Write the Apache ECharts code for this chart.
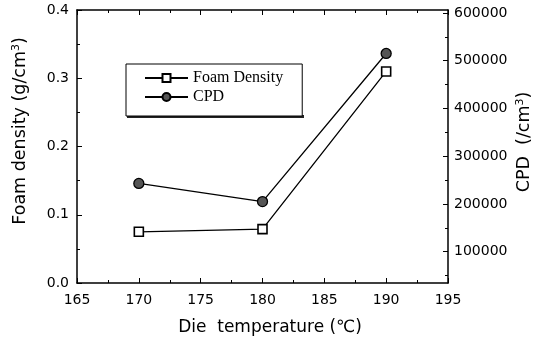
<!DOCTYPE html>
<html>
<head>
<meta charset="utf-8">
<script src="https://cdn.jsdelivr.net/npm/echarts@6/dist/echarts.min.js"></script>
<style>html,body{margin:0;padding:0;background:#fff}#c{width:540px;height:341px}</style>
</head>
<body>
<div id="c"></div>
<script>
const temperatures = [170, 180, 190];
const foamDensity = [0.075, 0.079, 0.310];
const cpd = [243000, 205000, 515000];
const xTicks = [165, 170, 175, 180, 185, 190, 195];
const leftTicks = [0.0, 0.1, 0.2, 0.3, 0.4];
const rightTickLabels = [100000, 200000, 300000, 400000, 500000, 600000];
const rightMinorTicks = [50000, 150000, 250000, 350000, 450000, 550000];

const chart = echarts.init(document.getElementById('c'), null, {renderer: 'canvas'});
const axisFont = {fontFamily: 'DejaVu Sans', fontSize: 14, color: '#000'};
const lineStyle = {color: '#000', width: 1.5};

const option = {
  animation: false,
  backgroundColor: '#fff',
  grid: {left: 77, right: 92, top: 10, bottom: 58},
  legend: {
    orient: 'vertical',
    left: 126, top: 64,
    padding: [6, 19, 11, 18],
    itemWidth: 43, itemHeight: 10, itemGap: 3, itemTextGap: 5,
    backgroundColor: '#fff',
    borderColor: '#000', borderWidth: 1,
    textStyle: {fontFamily: 'Liberation Serif', fontSize: 16, color: '#000'},
    data: ['Foam Density', 'CPD'],
    z: 10
  },
  xAxis: [{
    type: 'value', min: xTicks[0], max: xTicks[xTicks.length - 1], interval: 5,
    axisLine: {lineStyle: lineStyle},
    axisTick: {inside: true, length: 5, lineStyle: {color: '#000', width: 1}},
    minorTick: {show: true, splitNumber: 2, length: 3, lineStyle: {color: '#000'}},
    axisLabel: Object.assign({margin: 10}, axisFont),
    splitLine: {show: false}
  }, {
    type: 'value', position: 'top', min: xTicks[0], max: xTicks[xTicks.length - 1], interval: 5,
    axisLine: {onZero: false, lineStyle: lineStyle},
    axisTick: {inside: true, length: 5, lineStyle: {color: '#000', width: 1}},
    minorTick: {show: true, splitNumber: 2, length: 3, lineStyle: {color: '#000'}},
    axisLabel: {show: false},
    splitLine: {show: false}
  }],
  yAxis: [{
    type: 'value', min: leftTicks[0], max: leftTicks[leftTicks.length - 1], interval: 0.1,
    axisLine: {show: true, lineStyle: lineStyle},
    axisTick: {inside: true, length: 5, lineStyle: {color: '#000', width: 1}},
    minorTick: {show: true, splitNumber: 2, length: 3, lineStyle: {color: '#000'}},
    axisLabel: Object.assign({margin: 8, formatter: v => v.toFixed(1)}, axisFont),
    splitLine: {show: false}
  }, {
    type: 'value', position: 'right', min: 34500, max: 606000,
    axisLine: {show: true, onZero: false, lineStyle: lineStyle},
    axisTick: {inside: true, length: 5, customValues: rightTickLabels, lineStyle: {color: '#000', width: 1}},
    axisLabel: Object.assign({margin: 6, customValues: rightTickLabels, formatter: v => String(v)}, axisFont),
    splitLine: {show: false}
  }, {
    type: 'value', position: 'right', min: 34500, max: 606000,
    axisLine: {show: false},
    axisTick: {inside: true, length: 3, customValues: rightMinorTicks, lineStyle: {color: '#000', width: 1}},
    axisLabel: {show: false, customValues: rightMinorTicks},
    splitLine: {show: false}
  }],
  graphic: [{
    type: 'rect', left: 127, top: 115, z: 5,
    shape: {width: 177, height: 3},
    style: {fill: '#222'}
  }, {
    type: 'text', x: 20, y: 131, rotation: Math.PI / 2,
    style: {
      text: '{a|Foam density (g/cm}{s|3}{a|)}',
      align: 'center', verticalAlign: 'middle',
      rich: {
        a: {fontFamily: 'DejaVu Sans', fontSize: 17.5, fill: '#000'},
        s: {fontFamily: 'DejaVu Sans', fontSize: 11, fill: '#000', verticalAlign: 'top', padding: [0, 0, 8, 0]}
      }
    }
  }, {
    type: 'text', x: 524, y: 142, rotation: Math.PI / 2,
    style: {
      text: '{a|CPD  (/cm}{s|3}{a|)}',
      align: 'center', verticalAlign: 'middle',
      rich: {
        a: {fontFamily: 'DejaVu Sans', fontSize: 17.5, fill: '#000'},
        s: {fontFamily: 'DejaVu Sans', fontSize: 11, fill: '#000', verticalAlign: 'top', padding: [0, 0, 8, 0]}
      }
    }
  }, {
    type: 'text', x: 270, y: 328,
    style: {
      text: 'Die  temperature (℃)',
      align: 'center', verticalAlign: 'middle',
      fontFamily: 'DejaVu Sans', fontSize: 17, fill: '#000'
    }
  }],
  series: [{
    name: 'Foam Density', type: 'line', xAxisIndex: 0, yAxisIndex: 0,
    data: temperatures.map((t, i) => [t, foamDensity[i]]),
    symbol: 'rect', symbolSize: 9,
    lineStyle: {color: '#000', width: 1.3},
    itemStyle: {color: '#fff', borderColor: '#000', borderWidth: 1.6}
  }, {
    name: 'CPD', type: 'line', xAxisIndex: 0, yAxisIndex: 1,
    data: temperatures.map((t, i) => [t, cpd[i]]),
    symbol: 'circle', symbolSize: 10,
    lineStyle: {color: '#000', width: 1.3},
    itemStyle: {color: '#555', borderColor: '#000', borderWidth: 1.3}
  }]
};
chart.setOption(option);
</script>
</body>
</html>
